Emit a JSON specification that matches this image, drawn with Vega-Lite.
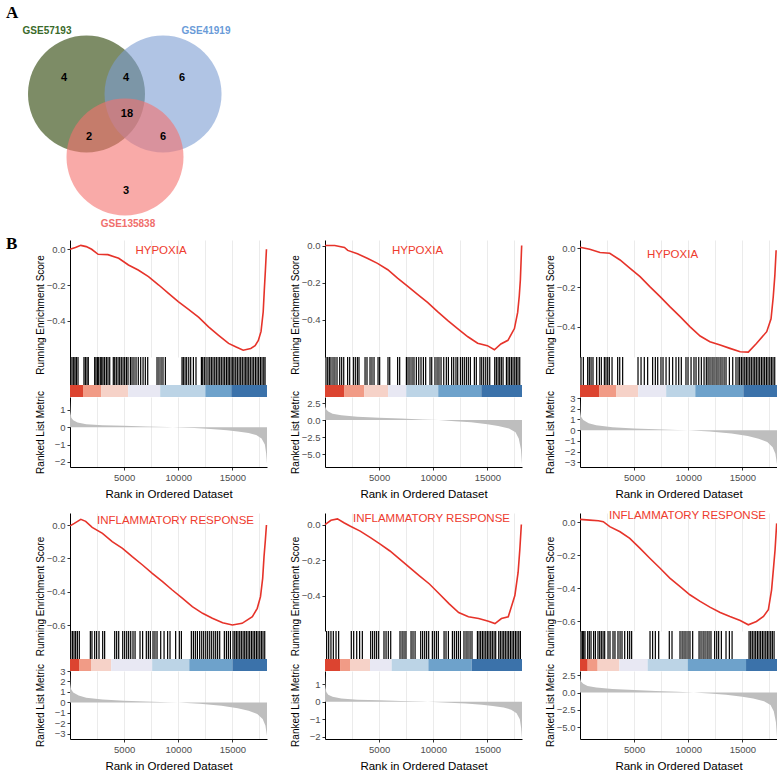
{
"$schema": "https://vega.github.io/schema/vega-lite/v6.json",
"background": "white",
"padding": {"left": 5, "top": 0, "right": 0, "bottom": 0},
"bounds": "flush",
"columns": 3,
"spacing": {"row": 0, "column": 58},
"resolve": {"scale": {"x": "independent", "y": "independent", "color": "independent"}},
"config": {
 "font": "Liberation Sans",
 "view": {"stroke": null},
 "title": {"color": "#ee3b2e", "fontSize": 11.5, "fontWeight": "normal", "frame": "group", "anchor": "middle", "baseline": "middle"},
 "axis": {"labelFontSize": 9.5, "labelColor": "#4d4d4d", "labelOverlap": false, "labelFlush": false, "labelBound": false, "titleFontWeight": "normal", "titleColor": "#000000", "domainColor": "#000000", "tickColor": "#333333", "tickSize": 3, "labelPadding": 2, "gridColor": "#ebebeb", "titleLimit": 1000, "tickCount": 20},
 "axisY": {"grid": false, "titleFontSize": 10, "titlePadding": 1, "minExtent": 24, "maxExtent": 24, "zindex": 1},
 "axisX": {"titleFontSize": 11.5}
},
"datasets": {
 "vennSets": [
  {"set": "GSE57193", "cx": 0, "cy": 0, "lx": -0.675, "ly": 1.077},
  {"set": "GSE41919", "cx": 1.308, "cy": 0, "lx": 2.043, "ly": 1.077},
  {"set": "GSE135838", "cx": 0.658, "cy": -1.077, "lx": 0.709, "ly": -2.222}
 ],
 "vennCounts": [
  {"n": 4, "x": -0.385, "y": 0.274}, {"n": 4, "x": 0.675, "y": 0.274}, {"n": 6, "x": 1.632, "y": 0.274},
  {"n": 18, "x": 0.692, "y": -0.342}, {"n": 2, "x": 0.043, "y": -0.735}, {"n": 6, "x": 1.308, "y": -0.735},
  {"n": 3, "x": 0.675, "y": -1.658}
 ],
 "panelTags": [{"t": "A", "x": -1.376, "y": 1.385}, {"t": "B", "x": -1.376, "y": -2.564}],
 "es1": [{"rank":0,"es":0},{"rank":500,"es":0.01},{"rank":1000,"es":0.022},{"rank":1500,"es":0.015},{"rank":2000,"es":0.0},{"rank":2600,"es":-0.028},{"rank":3500,"es":-0.03},{"rank":4500,"es":-0.05},{"rank":5400,"es":-0.088},{"rank":6300,"es":-0.116},{"rank":7250,"es":-0.153},{"rank":8200,"es":-0.2},{"rank":9100,"es":-0.247},{"rank":10000,"es":-0.293},{"rank":10950,"es":-0.336},{"rank":11900,"es":-0.381},{"rank":12800,"es":-0.434},{"rank":13700,"es":-0.48},{"rank":14650,"es":-0.527},{"rank":15300,"es":-0.546},{"rank":16000,"es":-0.565},{"rank":16700,"es":-0.555},{"rank":17100,"es":-0.54},{"rank":17400,"es":-0.51},{"rank":17650,"es":-0.46},{"rank":17850,"es":-0.35},{"rank":17950,"es":-0.23},{"rank":18050,"es":-0.12},{"rank":18150,"es":0.0}],
 "es2": [{"rank":0,"es":0},{"rank":900,"es":0.0},{"rank":1800,"es":-0.01},{"rank":2100,"es":-0.026},{"rank":3000,"es":-0.044},{"rank":3950,"es":-0.07},{"rank":4850,"es":-0.096},{"rank":5800,"es":-0.13},{"rank":6700,"es":-0.175},{"rank":7650,"es":-0.22},{"rank":8550,"es":-0.263},{"rank":9500,"es":-0.307},{"rank":10400,"es":-0.356},{"rank":11350,"es":-0.404},{"rank":12250,"es":-0.447},{"rank":13200,"es":-0.491},{"rank":14100,"es":-0.526},{"rank":15000,"es":-0.539},{"rank":15650,"es":-0.561},{"rank":16250,"es":-0.53},{"rank":16900,"es":-0.51},{"rank":17500,"es":-0.447},{"rank":17800,"es":-0.36},{"rank":17950,"es":-0.27},{"rank":18050,"es":-0.184},{"rank":18170,"es":0.0}],
 "es3": [{"rank":0,"es":0.005},{"rank":900,"es":-0.005},{"rank":1850,"es":-0.022},{"rank":2750,"es":-0.026},{"rank":3700,"es":-0.06},{"rank":4600,"es":-0.102},{"rank":5550,"es":-0.145},{"rank":6450,"es":-0.196},{"rank":7400,"es":-0.247},{"rank":8300,"es":-0.298},{"rank":9250,"es":-0.349},{"rank":10150,"es":-0.4},{"rank":11100,"es":-0.448},{"rank":12000,"es":-0.477},{"rank":12950,"es":-0.494},{"rank":13850,"es":-0.511},{"rank":14800,"es":-0.528},{"rank":15550,"es":-0.53},{"rank":16300,"es":-0.486},{"rank":17250,"es":-0.426},{"rank":17650,"es":-0.36},{"rank":17850,"es":-0.25},{"rank":18000,"es":-0.14},{"rank":18120,"es":-0.01}],
 "es4": [{"rank":0,"es":-0.005},{"rank":400,"es":0.01},{"rank":1000,"es":0.034},{"rank":1450,"es":0.022},{"rank":2050,"es":-0.014},{"rank":3000,"es":-0.05},{"rank":3900,"es":-0.1},{"rank":4850,"es":-0.14},{"rank":5750,"es":-0.19},{"rank":6700,"es":-0.24},{"rank":7600,"es":-0.29},{"rank":8550,"es":-0.34},{"rank":9450,"es":-0.39},{"rank":10400,"es":-0.44},{"rank":11300,"es":-0.49},{"rank":12250,"es":-0.53},{"rank":13150,"es":-0.56},{"rank":14100,"es":-0.586},{"rank":15000,"es":-0.6},{"rank":15900,"es":-0.59},{"rank":16850,"es":-0.55},{"rank":17300,"es":-0.5},{"rank":17600,"es":-0.43},{"rank":17800,"es":-0.32},{"rank":17925,"es":-0.19},{"rank":18050,"es":-0.09},{"rank":18150,"es":0.0}],
 "es5": [{"rank":0,"es":0},{"rank":550,"es":0.024},{"rank":1150,"es":0.032},{"rank":1750,"es":0.01},{"rank":2350,"es":-0.01},{"rank":3250,"es":-0.037},{"rank":4200,"es":-0.074},{"rank":5100,"es":-0.11},{"rank":6000,"es":-0.149},{"rank":6900,"es":-0.195},{"rank":7800,"es":-0.242},{"rank":8700,"es":-0.288},{"rank":9650,"es":-0.335},{"rank":10550,"es":-0.39},{"rank":11450,"es":-0.446},{"rank":12350,"es":-0.496},{"rank":13250,"es":-0.52},{"rank":14200,"es":-0.53},{"rank":15100,"es":-0.545},{"rank":15700,"es":-0.558},{"rank":16300,"es":-0.53},{"rank":16930,"es":-0.52},{"rank":17540,"es":-0.4},{"rank":17840,"es":-0.27},{"rank":18000,"es":-0.14},{"rank":18140,"es":0.0}],
 "es6": [{"rank":0,"es":0.018},{"rank":900,"es":0.014},{"rank":1700,"es":0.01},{"rank":2150,"es":0.004},{"rank":2750,"es":-0.026},{"rank":3700,"es":-0.057},{"rank":4600,"es":-0.097},{"rank":5550,"es":-0.158},{"rank":6450,"es":-0.218},{"rank":7400,"es":-0.279},{"rank":8300,"es":-0.339},{"rank":9250,"es":-0.39},{"rank":10150,"es":-0.44},{"rank":11100,"es":-0.48},{"rank":12000,"es":-0.515},{"rank":12950,"es":-0.547},{"rank":13850,"es":-0.572},{"rank":14800,"es":-0.596},{"rank":15550,"es":-0.622},{"rank":16300,"es":-0.602},{"rank":16950,"es":-0.572},{"rank":17400,"es":-0.531},{"rank":17700,"es":-0.41},{"rank":17900,"es":-0.26},{"rank":18020,"es":-0.168},{"rank":18170,"es":-0.006}],
 "metA": [{"rank":1,"metric":1.55},{"rank":40,"metric":0.9},{"rank":120,"metric":0.55},{"rank":300,"metric":0.4},{"rank":700,"metric":0.28},{"rank":1500,"metric":0.18},{"rank":3000,"metric":0.12},{"rank":5000,"metric":0.08},{"rank":7000,"metric":0.045},{"rank":9000,"metric":0.01},{"rank":10000,"metric":-0.01},{"rank":11500,"metric":-0.05},{"rank":13000,"metric":-0.1},{"rank":14500,"metric":-0.17},{"rank":15500,"metric":-0.24},{"rank":16500,"metric":-0.33},{"rank":17200,"metric":-0.45},{"rank":17700,"metric":-0.65},{"rank":18000,"metric":-1.0},{"rank":18120,"metric":-1.5},{"rank":18200,"metric":-2.1}],
 "metB": [{"rank":1,"metric":3.0},{"rank":30,"metric":2.0},{"rank":100,"metric":1.6},{"rank":300,"metric":1.25},{"rank":700,"metric":0.95},{"rank":1500,"metric":0.72},{"rank":3000,"metric":0.5},{"rank":5000,"metric":0.35},{"rank":7000,"metric":0.22},{"rank":9000,"metric":0.1},{"rank":10500,"metric":0.0},{"rank":12000,"metric":-0.15},{"rank":13500,"metric":-0.32},{"rank":15000,"metric":-0.6},{"rank":16000,"metric":-0.85},{"rank":17000,"metric":-1.25},{"rank":17600,"metric":-1.8},{"rank":17900,"metric":-2.7},{"rank":18100,"metric":-4.3},{"rank":18200,"metric":-6.5}],
 "metC": [{"rank":1,"metric":2.8},{"rank":30,"metric":1.8},{"rank":100,"metric":1.25},{"rank":300,"metric":0.95},{"rank":800,"metric":0.65},{"rank":1500,"metric":0.45},{"rank":3000,"metric":0.27},{"rank":5000,"metric":0.15},{"rank":7000,"metric":0.08},{"rank":9000,"metric":0.02},{"rank":10000,"metric":-0.02},{"rank":12000,"metric":-0.13},{"rank":14000,"metric":-0.32},{"rank":15500,"metric":-0.55},{"rank":16500,"metric":-0.8},{"rank":17300,"metric":-1.1},{"rank":17800,"metric":-1.6},{"rank":18050,"metric":-2.2},{"rank":18200,"metric":-3.2}],
 "strip1": [{"start":0,"end":1200,"bin":1},{"start":1200,"end":2870,"bin":2},{"start":2870,"end":5370,"bin":3},{"start":5370,"end":8330,"bin":4},{"start":8330,"end":12500,"bin":5},{"start":12500,"end":14900,"bin":6},{"start":14900,"end":18200,"bin":7}],
 "strip2": [{"start":0,"end":1760,"bin":1},{"start":1760,"end":3610,"bin":2},{"start":3610,"end":5830,"bin":3},{"start":5830,"end":7500,"bin":4},{"start":7500,"end":10460,"bin":5},{"start":10460,"end":14440,"bin":6},{"start":14440,"end":18200,"bin":7}],
 "strip3": [{"start":0,"end":1760,"bin":1},{"start":1760,"end":3330,"bin":2},{"start":3330,"end":5370,"bin":3},{"start":5370,"end":7960,"bin":4},{"start":7960,"end":10650,"bin":5},{"start":10650,"end":15090,"bin":6},{"start":15090,"end":18200,"bin":7}],
 "strip4": [{"start":0,"end":830,"bin":1},{"start":830,"end":1940,"bin":2},{"start":1940,"end":3800,"bin":3},{"start":3800,"end":7590,"bin":4},{"start":7590,"end":11020,"bin":5},{"start":11020,"end":15000,"bin":6},{"start":15000,"end":18200,"bin":7}],
 "strip5": [{"start":0,"end":1390,"bin":1},{"start":1390,"end":2310,"bin":2},{"start":2310,"end":4160,"bin":3},{"start":4160,"end":6160,"bin":4},{"start":6160,"end":9550,"bin":5},{"start":9550,"end":13550,"bin":6},{"start":13550,"end":18200,"bin":7}],
 "strip6": [{"start":0,"end":710,"bin":1},{"start":710,"end":1630,"bin":2},{"start":1630,"end":3630,"bin":3},{"start":3630,"end":6250,"bin":4},{"start":6250,"end":9950,"bin":5},{"start":9950,"end":15340,"bin":6},{"start":15340,"end":18200,"bin":7}],
 "hits1": [{"rank":60},{"rank":190},{"rank":340},{"rank":460},{"rank":590},{"rank":740},{"rank":1290},{"rank":1420},{"rank":1570},{"rank":1690},{"rank":2280},{"rank":2400},{"rank":2530},{"rank":2650},{"rank":2800},{"rank":2930},{"rank":3050},{"rank":3200},{"rank":3360},{"rank":3510},{"rank":3670},{"rank":4000},{"rank":4130},{"rank":4280},{"rank":4440},{"rank":4590},{"rank":4740},{"rank":4900},{"rank":5050},{"rank":5210},{"rank":5360},{"rank":5580},{"rank":5730},{"rank":5910},{"rank":6100},{"rank":6310},{"rank":6530},{"rank":6750},{"rank":6960},{"rank":7180},{"rank":8040},{"rank":8220},{"rank":8410},{"rank":8590},{"rank":8810},{"rank":10350},{"rank":10470},{"rank":10630},{"rank":10780},{"rank":10970},{"rank":11150},{"rank":11400},{"rank":11640},{"rank":12140},{"rank":12260},{"rank":12410},{"rank":12570},{"rank":12750},{"rank":12910},{"rank":13060},{"rank":13210},{"rank":13370},{"rank":13520},{"rank":13680},{"rank":13830},{"rank":13980},{"rank":14140},{"rank":14290},{"rank":14450},{"rank":14600},{"rank":14720},{"rank":14880},{"rank":15030},{"rank":15150},{"rank":15310},{"rank":15460},{"rank":15620},{"rank":15770},{"rank":15920},{"rank":16080},{"rank":16230},{"rank":16360},{"rank":16510},{"rank":16660},{"rank":16820},{"rank":16970},{"rank":17130},{"rank":17280},{"rank":17430},{"rank":17590},{"rank":17740},{"rank":17900},{"rank":18020}],
 "hits2": [{"rank":90},{"rank":250},{"rank":400},{"rank":550},{"rank":740},{"rank":920},{"rank":1110},{"rank":1360},{"rank":1540},{"rank":1730},{"rank":2090},{"rank":2280},{"rank":2620},{"rank":2800},{"rank":2990},{"rank":3140},{"rank":3700},{"rank":3880},{"rank":4160},{"rank":4340},{"rank":4530},{"rank":4900},{"rank":5050},{"rank":5820},{"rank":5980},{"rank":6710},{"rank":6900},{"rank":7520},{"rank":7670},{"rank":7850},{"rank":8040},{"rank":8220},{"rank":8440},{"rank":8660},{"rank":8870},{"rank":9090},{"rank":9300},{"rank":9700},{"rank":9860},{"rank":10160},{"rank":10350},{"rank":10530},{"rank":10720},{"rank":10970},{"rank":11210},{"rank":11400},{"rank":11700},{"rank":11890},{"rank":12100},{"rank":12260},{"rank":12510},{"rank":12690},{"rank":12870},{"rank":13060},{"rank":13240},{"rank":13430},{"rank":13800},{"rank":13980},{"rank":14320},{"rank":14480},{"rank":14660},{"rank":14850},{"rank":15030},{"rank":15220},{"rank":15680},{"rank":15830},{"rank":15990},{"rank":16140},{"rank":16290},{"rank":16450},{"rank":16760},{"rank":16910},{"rank":17060},{"rank":17220},{"rank":17370},{"rank":17530},{"rank":17680},{"rank":17830},{"rank":17990}],
 "hits3": [{"rank":90},{"rank":310},{"rank":710},{"rank":860},{"rank":1020},{"rank":1200},{"rank":1540},{"rank":1790},{"rank":1970},{"rank":2250},{"rank":2400},{"rank":2560},{"rank":2710},{"rank":2960},{"rank":3480},{"rank":3670},{"rank":3940},{"rank":5360},{"rank":5640},{"rank":5940},{"rank":6250},{"rank":6710},{"rank":6960},{"rank":7180},{"rank":7480},{"rank":7670},{"rank":7950},{"rank":8250},{"rank":8560},{"rank":8870},{"rank":9120},{"rank":9360},{"rank":9790},{"rank":9980},{"rank":10260},{"rank":10530},{"rank":10720},{"rank":10970},{"rank":11210},{"rank":11460},{"rank":11670},{"rank":11830},{"rank":12010},{"rank":12200},{"rank":12380},{"rank":12570},{"rank":12750},{"rank":12940},{"rank":13120},{"rank":13310},{"rank":13490},{"rank":13800},{"rank":14110},{"rank":14410},{"rank":14600},{"rank":14750},{"rank":14910},{"rank":15060},{"rank":15220},{"rank":15370},{"rank":15520},{"rank":15680},{"rank":15830},{"rank":15990},{"rank":16140},{"rank":16290},{"rank":16450},{"rank":16600},{"rank":16760},{"rank":16910},{"rank":17060},{"rank":17220},{"rank":17370},{"rank":17530},{"rank":17680},{"rank":17830},{"rank":17990}],
 "hits4": [{"rank":60},{"rank":220},{"rank":370},{"rank":520},{"rank":680},{"rank":860},{"rank":1880},{"rank":2030},{"rank":2280},{"rank":2460},{"rank":2680},{"rank":3020},{"rank":3200},{"rank":4130},{"rank":4310},{"rank":4500},{"rank":4870},{"rank":5050},{"rank":5240},{"rank":5420},{"rank":5610},{"rank":5820},{"rank":6010},{"rank":6470},{"rank":6710},{"rank":7050},{"rank":7240},{"rank":7420},{"rank":7670},{"rank":7850},{"rank":8040},{"rank":8380},{"rank":8690},{"rank":9020},{"rank":9240},{"rank":9760},{"rank":10100},{"rank":10290},{"rank":11210},{"rank":11400},{"rank":11580},{"rank":11770},{"rank":11980},{"rank":12170},{"rank":12350},{"rank":12540},{"rank":12720},{"rank":12910},{"rank":13090},{"rank":13280},{"rank":13460},{"rank":13640},{"rank":13830},{"rank":14260},{"rank":14450},{"rank":14630},{"rank":14820},{"rank":15060},{"rank":15220},{"rank":15370},{"rank":15520},{"rank":15680},{"rank":15830},{"rank":15990},{"rank":16140},{"rank":16290},{"rank":16450},{"rank":16600},{"rank":16760},{"rank":16910},{"rank":17060},{"rank":17220},{"rank":17370},{"rank":17530},{"rank":17680},{"rank":17830},{"rank":17990}],
 "hits5": [{"rank":150},{"rank":340},{"rank":550},{"rank":770},{"rank":1020},{"rank":1260},{"rank":2430},{"rank":2650},{"rank":2930},{"rank":3200},{"rank":3450},{"rank":4220},{"rank":4400},{"rank":4590},{"rank":4770},{"rank":4960},{"rank":5450},{"rank":5640},{"rank":5850},{"rank":6070},{"rank":6930},{"rank":7120},{"rank":7300},{"rank":7480},{"rank":7950},{"rank":8130},{"rank":8320},{"rank":8840},{"rank":9020},{"rank":9210},{"rank":9390},{"rank":9580},{"rank":9920},{"rank":10100},{"rank":10290},{"rank":10470},{"rank":11000},{"rank":11180},{"rank":11400},{"rank":11770},{"rank":11950},{"rank":12140},{"rank":12320},{"rank":12510},{"rank":12840},{"rank":13030},{"rank":13210},{"rank":13400},{"rank":13580},{"rank":14080},{"rank":14230},{"rank":14380},{"rank":14540},{"rank":14690},{"rank":14850},{"rank":15000},{"rank":15150},{"rank":15310},{"rank":15460},{"rank":15620},{"rank":15770},{"rank":16050},{"rank":16200},{"rank":16360},{"rank":16510},{"rank":16660},{"rank":16820},{"rank":16970},{"rank":17130},{"rank":17280},{"rank":17430},{"rank":17590},{"rank":17740},{"rank":17900},{"rank":18050}],
 "hits6": [{"rank":90},{"rank":220},{"rank":340},{"rank":460},{"rank":710},{"rank":860},{"rank":1020},{"rank":1260},{"rank":1420},{"rank":1660},{"rank":1820},{"rank":1970},{"rank":2130},{"rank":2280},{"rank":2590},{"rank":2770},{"rank":3050},{"rank":3230},{"rank":3510},{"rank":3700},{"rank":3880},{"rank":4130},{"rank":4400},{"rank":4590},{"rank":4770},{"rank":6470},{"rank":6710},{"rank":6960},{"rank":7270},{"rank":8250},{"rank":8500},{"rank":9240},{"rank":9430},{"rank":9610},{"rank":9790},{"rank":9980},{"rank":10160},{"rank":10410},{"rank":11000},{"rank":11180},{"rank":11370},{"rank":11550},{"rank":11740},{"rank":11920},{"rank":12100},{"rank":12440},{"rank":12630},{"rank":12810},{"rank":13060},{"rank":13490},{"rank":13800},{"rank":14050},{"rank":15620},{"rank":15770},{"rank":15920},{"rank":16080},{"rank":16230},{"rank":16390},{"rank":16540},{"rank":16690},{"rank":16850},{"rank":17000},{"rank":17160},{"rank":17310},{"rank":17460},{"rank":17620},{"rank":17770},{"rank":17930}]
},
"concat": [
 {"width": 197, "height": 240,
  "layer": [
   {"data": {"name": "vennSets"}, "mark": {"type": "point", "shape": "circle", "filled": true, "size": 13689, "opacity": 0.6, "strokeWidth": 0},
    "encoding": {
     "x": {"field": "cx", "type": "quantitative", "scale": {"domain": [-0.282, 3.085], "nice": false, "zero": false}, "axis": null},
     "y": {"field": "cy", "type": "quantitative", "scale": {"domain": [-2.496, 1.607], "nice": false, "zero": false}, "axis": null},
     "color": {"field": "set", "type": "nominal", "scale": {"domain": ["GSE57193", "GSE41919", "GSE135838"], "range": ["#263f00", "#7b9dd2", "#f5716e"]}, "legend": null}
    }},
   {"data": {"name": "vennSets"}, "mark": {"type": "text", "fontSize": 10, "fontWeight": "bold"},
    "encoding": {
     "x": {"field": "lx", "type": "quantitative"},
     "y": {"field": "ly", "type": "quantitative"},
     "text": {"field": "set"},
     "color": {"field": "set", "type": "nominal", "scale": {"domain": ["GSE57193", "GSE41919", "GSE135838"], "range": ["#3a6a2a", "#6a9bd8", "#f06f6c"]}, "legend": null}
    }},
   {"data": {"name": "vennCounts"}, "mark": {"type": "text", "fontSize": 11, "fontWeight": "bold", "color": "#000000"},
    "encoding": {
     "x": {"field": "x", "type": "quantitative"},
     "y": {"field": "y", "type": "quantitative"},
     "text": {"field": "n"}
    }},
   {"data": {"name": "panelTags"}, "mark": {"type": "text", "font": "Liberation Serif", "fontSize": 17, "fontWeight": "bold", "align": "left", "baseline": "middle", "color": "#000000"},
    "encoding": {
     "x": {"field": "x", "type": "quantitative"},
     "y": {"field": "y", "type": "quantitative"},
     "text": {"field": "t"}
    }}
  ],
  "resolve": {"scale": {"color": "independent"}}
 },
 {"width": 197, "height": 240, "data": {"values": []}, "mark": "point"},
 {"width": 197, "height": 240, "data": {"values": []}, "mark": "point"},

 {"width": 197, "height": 117, "title": {"text": "HYPOXIA", "offset": -16, "dx": -7.5},
  "data": {"name": "es1"}, "mark": {"type": "line", "color": "#e6332a", "strokeWidth": 1.6},
  "encoding": {
   "x": {"field": "rank", "type": "quantitative", "scale": {"domain": [0, 18200], "nice": false, "zero": false}, "axis": {"values": [2500,5000,7500,10000,12500,15000,17500], "tickCount": 20, "domain": false, "ticks": false, "labels": false, "title": null, "grid": true}},
   "y": {"field": "es", "type": "quantitative", "scale": {"domain": [-0.603, 0.052], "nice": false, "zero": false}, "axis": {"values": [-0.4, -0.2, 0], "tickCount": 20, "labelOverlap": false, "format": ".1f", "title": "Running Enrichment Score", "titleY": 74.5}}
  }},
 {"width": 197, "height": 117, "title": {"text": "HYPOXIA", "offset": -16, "dx": -6},
  "data": {"name": "es2"}, "mark": {"type": "line", "color": "#e6332a", "strokeWidth": 1.6},
  "encoding": {
   "x": {"field": "rank", "type": "quantitative", "scale": {"domain": [0, 18200], "nice": false, "zero": false}, "axis": {"values": [2500,5000,7500,10000,12500,15000,17500], "tickCount": 20, "domain": false, "ticks": false, "labels": false, "title": null, "grid": true}},
   "y": {"field": "es", "type": "quantitative", "scale": {"domain": [-0.6, 0.03], "nice": false, "zero": false}, "axis": {"values": [-0.4, -0.3, -0.2, -0.1, 0], "tickCount": 20, "labelOverlap": false, "format": ".1f", "labelExpr": "abs(round(datum.value * 10)) % 2 === 1 ? '' : datum.label", "tickOpacity": {"condition": {"test": "abs(round(datum.value * 10)) % 2 === 1", "value": 0}, "value": 1}, "title": "Running Enrichment Score", "titleY": 74.5}}
  }},
 {"width": 197, "height": 117, "title": {"text": "HYPOXIA", "offset": -20, "dx": -6},
  "data": {"name": "es3"}, "mark": {"type": "line", "color": "#e6332a", "strokeWidth": 1.6},
  "encoding": {
   "x": {"field": "rank", "type": "quantitative", "scale": {"domain": [0, 18200], "nice": false, "zero": false}, "axis": {"values": [2500,5000,7500,10000,12500,15000,17500], "tickCount": 20, "domain": false, "ticks": false, "labels": false, "title": null, "grid": true}},
   "y": {"field": "es", "type": "quantitative", "scale": {"domain": [-0.555, 0.042], "nice": false, "zero": false}, "axis": {"values": [-0.4, -0.2, 0], "tickCount": 20, "labelOverlap": false, "format": ".1f", "title": "Running Enrichment Score", "titleY": 74.5}}
  }},

 {"width": 197, "height": 40, "layer": [
  {"data": {"name": "strip1"}, "mark": {"type": "rect"},
   "encoding": {
    "x": {"field": "start", "type": "quantitative", "scale": {"domain": [0, 18200], "nice": false, "zero": false}, "axis": null},
    "x2": {"field": "end"},
    "y": {"datum": 0, "type": "quantitative", "scale": {"domain": [0, 1], "nice": false, "zero": false}, "axis": null},
    "y2": {"datum": 0.3},
    "color": {"field": "bin", "type": "ordinal", "scale": {"domain": [1,2,3,4,5,6,7], "range": ["#dc4430", "#f19b86", "#f6d2c8", "#e8e8f3", "#bcd4e6", "#6ea2cb", "#3b72aa"]}, "legend": null}
   }},
  {"data": {"name": "hits1"}, "mark": {"type": "rule", "color": "#000000", "strokeWidth": 1.2},
   "encoding": {"x": {"field": "rank", "type": "quantitative"}, "y": {"datum": 0.3, "type": "quantitative"}, "y2": {"datum": 1}}}
 ]},
 {"width": 197, "height": 40, "layer": [
  {"data": {"name": "strip2"}, "mark": {"type": "rect"},
   "encoding": {
    "x": {"field": "start", "type": "quantitative", "scale": {"domain": [0, 18200], "nice": false, "zero": false}, "axis": null},
    "x2": {"field": "end"},
    "y": {"datum": 0, "type": "quantitative", "scale": {"domain": [0, 1], "nice": false, "zero": false}, "axis": null},
    "y2": {"datum": 0.3},
    "color": {"field": "bin", "type": "ordinal", "scale": {"domain": [1,2,3,4,5,6,7], "range": ["#dc4430", "#f19b86", "#f6d2c8", "#e8e8f3", "#bcd4e6", "#6ea2cb", "#3b72aa"]}, "legend": null}
   }},
  {"data": {"name": "hits2"}, "mark": {"type": "rule", "color": "#000000", "strokeWidth": 1.2},
   "encoding": {"x": {"field": "rank", "type": "quantitative"}, "y": {"datum": 0.3, "type": "quantitative"}, "y2": {"datum": 1}}}
 ]},
 {"width": 197, "height": 40, "layer": [
  {"data": {"name": "strip3"}, "mark": {"type": "rect"},
   "encoding": {
    "x": {"field": "start", "type": "quantitative", "scale": {"domain": [0, 18200], "nice": false, "zero": false}, "axis": null},
    "x2": {"field": "end"},
    "y": {"datum": 0, "type": "quantitative", "scale": {"domain": [0, 1], "nice": false, "zero": false}, "axis": null},
    "y2": {"datum": 0.3},
    "color": {"field": "bin", "type": "ordinal", "scale": {"domain": [1,2,3,4,5,6,7], "range": ["#dc4430", "#f19b86", "#f6d2c8", "#e8e8f3", "#bcd4e6", "#6ea2cb", "#3b72aa"]}, "legend": null}
   }},
  {"data": {"name": "hits3"}, "mark": {"type": "rule", "color": "#000000", "strokeWidth": 1.2},
   "encoding": {"x": {"field": "rank", "type": "quantitative"}, "y": {"datum": 0.3, "type": "quantitative"}, "y2": {"datum": 1}}}
 ]},

 {"width": 197, "height": 70, "data": {"name": "metA"}, "mark": {"type": "area", "color": "#bebebe"},
  "encoding": {
   "x": {"field": "rank", "type": "quantitative", "scale": {"domain": [0, 18200], "nice": false, "zero": false}, "axis": {"values": [2500,5000,7500,10000,12500,15000,17500], "tickCount": 20, "labelOverlap": false, "format": "d", "labelExpr": "datum.value % 5000 === 0 ? datum.label : ''", "tickOpacity": {"condition": {"test": "datum.value % 5000 !== 0", "value": 0}, "value": 1}, "title": "Rank in Ordered Dataset", "titlePadding": 7, "grid": true}},
   "y": {"field": "metric", "type": "quantitative", "scale": {"domain": [-2.3, 1.75], "nice": false, "zero": false}, "axis": {"values": [1, 0, -1, -2], "tickCount": 20, "labelOverlap": false, "format": "d", "title": "Ranked List Metric"}},
   "y2": {"datum": 0}
  }},
 {"width": 197, "height": 70, "data": {"name": "metB"}, "mark": {"type": "area", "color": "#bebebe"},
  "encoding": {
   "x": {"field": "rank", "type": "quantitative", "scale": {"domain": [0, 18200], "nice": false, "zero": false}, "axis": {"values": [2500,5000,7500,10000,12500,15000,17500], "tickCount": 20, "labelOverlap": false, "format": "d", "labelExpr": "datum.value % 5000 === 0 ? datum.label : ''", "tickOpacity": {"condition": {"test": "datum.value % 5000 !== 0", "value": 0}, "value": 1}, "title": "Rank in Ordered Dataset", "titlePadding": 7, "grid": true}},
   "y": {"field": "metric", "type": "quantitative", "scale": {"domain": [-6.9, 3.4], "nice": false, "zero": false}, "axis": {"values": [2.5, 0, -2.5, -5], "tickCount": 20, "labelOverlap": false, "format": ".1f", "title": "Ranked List Metric"}},
   "y2": {"datum": 0}
  }},
 {"width": 197, "height": 70, "data": {"name": "metC"}, "mark": {"type": "area", "color": "#bebebe"},
  "encoding": {
   "x": {"field": "rank", "type": "quantitative", "scale": {"domain": [0, 18200], "nice": false, "zero": false}, "axis": {"values": [2500,5000,7500,10000,12500,15000,17500], "tickCount": 20, "labelOverlap": false, "format": "d", "labelExpr": "datum.value % 5000 === 0 ? datum.label : ''", "tickOpacity": {"condition": {"test": "datum.value % 5000 !== 0", "value": 0}, "value": 1}, "title": "Rank in Ordered Dataset", "titlePadding": 7, "grid": true}},
   "y": {"field": "metric", "type": "quantitative", "scale": {"domain": [-3.45, 3.1], "nice": false, "zero": false}, "axis": {"values": [3, 2, 1, 0, -1, -2, -3], "tickCount": 20, "labelOverlap": false, "format": "d", "title": "Ranked List Metric"}},
   "y2": {"datum": 0}
  }},

 {"width": 197, "height": 46, "data": {"values": []}, "mark": "point"},
 {"width": 197, "height": 46, "data": {"values": []}, "mark": "point"},
 {"width": 197, "height": 46, "data": {"values": []}, "mark": "point"},

 {"width": 197, "height": 118, "title": {"text": "INFLAMMATORY RESPONSE", "offset": -13, "dx": 7},
  "data": {"name": "es4"}, "mark": {"type": "line", "color": "#e6332a", "strokeWidth": 1.6},
  "encoding": {
   "x": {"field": "rank", "type": "quantitative", "scale": {"domain": [0, 18200], "nice": false, "zero": false}, "axis": {"values": [2500,5000,7500,10000,12500,15000,17500], "tickCount": 20, "domain": false, "ticks": false, "labels": false, "title": null, "grid": true}},
   "y": {"field": "es", "type": "quantitative", "scale": {"domain": [-0.636, 0.072], "nice": false, "zero": false}, "axis": {"values": [-0.6, -0.4, -0.2, 0], "tickCount": 20, "labelOverlap": false, "format": ".1f", "title": "Running Enrichment Score", "titleY": 83}}
  }},
 {"width": 197, "height": 118, "title": {"text": "INFLAMMATORY RESPONSE", "offset": -11.5, "dx": 8},
  "data": {"name": "es5"}, "mark": {"type": "line", "color": "#e6332a", "strokeWidth": 1.6},
  "encoding": {
   "x": {"field": "rank", "type": "quantitative", "scale": {"domain": [0, 18200], "nice": false, "zero": false}, "axis": {"values": [2500,5000,7500,10000,12500,15000,17500], "tickCount": 20, "domain": false, "ticks": false, "labels": false, "title": null, "grid": true}},
   "y": {"field": "es", "type": "quantitative", "scale": {"domain": [-0.6, 0.065], "nice": false, "zero": false}, "axis": {"values": [-0.4, -0.3, -0.2, -0.1, 0], "tickCount": 20, "labelOverlap": false, "format": ".1f", "labelExpr": "abs(round(datum.value * 10)) % 2 === 1 ? '' : datum.label", "tickOpacity": {"condition": {"test": "abs(round(datum.value * 10)) % 2 === 1", "value": 0}, "value": 1}, "title": "Running Enrichment Score", "titleY": 83}}
  }},
 {"width": 197, "height": 118, "title": {"text": "INFLAMMATORY RESPONSE", "offset": -8, "dx": 9},
  "data": {"name": "es6"}, "mark": {"type": "line", "color": "#e6332a", "strokeWidth": 1.6},
  "encoding": {
   "x": {"field": "rank", "type": "quantitative", "scale": {"domain": [0, 18200], "nice": false, "zero": false}, "axis": {"values": [2500,5000,7500,10000,12500,15000,17500], "tickCount": 20, "domain": false, "ticks": false, "labels": false, "title": null, "grid": true}},
   "y": {"field": "es", "type": "quantitative", "scale": {"domain": [-0.66, 0.057], "nice": false, "zero": false}, "axis": {"values": [-0.6, -0.4, -0.2, 0], "tickCount": 20, "labelOverlap": false, "format": ".1f", "title": "Running Enrichment Score", "titleY": 83}}
  }},

 {"width": 197, "height": 40, "layer": [
  {"data": {"name": "strip4"}, "mark": {"type": "rect"},
   "encoding": {
    "x": {"field": "start", "type": "quantitative", "scale": {"domain": [0, 18200], "nice": false, "zero": false}, "axis": null},
    "x2": {"field": "end"},
    "y": {"datum": 0, "type": "quantitative", "scale": {"domain": [0, 1], "nice": false, "zero": false}, "axis": null},
    "y2": {"datum": 0.3},
    "color": {"field": "bin", "type": "ordinal", "scale": {"domain": [1,2,3,4,5,6,7], "range": ["#dc4430", "#f19b86", "#f6d2c8", "#e8e8f3", "#bcd4e6", "#6ea2cb", "#3b72aa"]}, "legend": null}
   }},
  {"data": {"name": "hits4"}, "mark": {"type": "rule", "color": "#000000", "strokeWidth": 1.2},
   "encoding": {"x": {"field": "rank", "type": "quantitative"}, "y": {"datum": 0.3, "type": "quantitative"}, "y2": {"datum": 1}}}
 ]},
 {"width": 197, "height": 40, "layer": [
  {"data": {"name": "strip5"}, "mark": {"type": "rect"},
   "encoding": {
    "x": {"field": "start", "type": "quantitative", "scale": {"domain": [0, 18200], "nice": false, "zero": false}, "axis": null},
    "x2": {"field": "end"},
    "y": {"datum": 0, "type": "quantitative", "scale": {"domain": [0, 1], "nice": false, "zero": false}, "axis": null},
    "y2": {"datum": 0.3},
    "color": {"field": "bin", "type": "ordinal", "scale": {"domain": [1,2,3,4,5,6,7], "range": ["#dc4430", "#f19b86", "#f6d2c8", "#e8e8f3", "#bcd4e6", "#6ea2cb", "#3b72aa"]}, "legend": null}
   }},
  {"data": {"name": "hits5"}, "mark": {"type": "rule", "color": "#000000", "strokeWidth": 1.2},
   "encoding": {"x": {"field": "rank", "type": "quantitative"}, "y": {"datum": 0.3, "type": "quantitative"}, "y2": {"datum": 1}}}
 ]},
 {"width": 197, "height": 40, "layer": [
  {"data": {"name": "strip6"}, "mark": {"type": "rect"},
   "encoding": {
    "x": {"field": "start", "type": "quantitative", "scale": {"domain": [0, 18200], "nice": false, "zero": false}, "axis": null},
    "x2": {"field": "end"},
    "y": {"datum": 0, "type": "quantitative", "scale": {"domain": [0, 1], "nice": false, "zero": false}, "axis": null},
    "y2": {"datum": 0.3},
    "color": {"field": "bin", "type": "ordinal", "scale": {"domain": [1,2,3,4,5,6,7], "range": ["#dc4430", "#f19b86", "#f6d2c8", "#e8e8f3", "#bcd4e6", "#6ea2cb", "#3b72aa"]}, "legend": null}
   }},
  {"data": {"name": "hits6"}, "mark": {"type": "rule", "color": "#000000", "strokeWidth": 1.2},
   "encoding": {"x": {"field": "rank", "type": "quantitative"}, "y": {"datum": 0.3, "type": "quantitative"}, "y2": {"datum": 1}}}
 ]},

 {"width": 197, "height": 68, "data": {"name": "metC"}, "mark": {"type": "area", "color": "#bebebe"},
  "encoding": {
   "x": {"field": "rank", "type": "quantitative", "scale": {"domain": [0, 18200], "nice": false, "zero": false}, "axis": {"values": [2500,5000,7500,10000,12500,15000,17500], "tickCount": 20, "labelOverlap": false, "format": "d", "labelExpr": "datum.value % 5000 === 0 ? datum.label : ''", "tickOpacity": {"condition": {"test": "datum.value % 5000 !== 0", "value": 0}, "value": 1}, "title": "Rank in Ordered Dataset", "titlePadding": 7, "grid": true}},
   "y": {"field": "metric", "type": "quantitative", "scale": {"domain": [-3.5, 3.0], "nice": false, "zero": false}, "axis": {"values": [3, 2, 1, 0, -1, -2, -3], "tickCount": 20, "labelOverlap": false, "format": "d", "title": "Ranked List Metric"}},
   "y2": {"datum": 0}
  }},
 {"width": 197, "height": 68, "data": {"name": "metA"}, "mark": {"type": "area", "color": "#bebebe"},
  "encoding": {
   "x": {"field": "rank", "type": "quantitative", "scale": {"domain": [0, 18200], "nice": false, "zero": false}, "axis": {"values": [2500,5000,7500,10000,12500,15000,17500], "tickCount": 20, "labelOverlap": false, "format": "d", "labelExpr": "datum.value % 5000 === 0 ? datum.label : ''", "tickOpacity": {"condition": {"test": "datum.value % 5000 !== 0", "value": 0}, "value": 1}, "title": "Rank in Ordered Dataset", "titlePadding": 7, "grid": true}},
   "y": {"field": "metric", "type": "quantitative", "scale": {"domain": [-2.12, 1.75], "nice": false, "zero": false}, "axis": {"values": [1, 0, -1, -2], "tickCount": 20, "labelOverlap": false, "format": "d", "title": "Ranked List Metric"}},
   "y2": {"datum": 0}
  }},
 {"width": 197, "height": 68, "data": {"name": "metB"}, "mark": {"type": "area", "color": "#bebebe"},
  "encoding": {
   "x": {"field": "rank", "type": "quantitative", "scale": {"domain": [0, 18200], "nice": false, "zero": false}, "axis": {"values": [2500,5000,7500,10000,12500,15000,17500], "tickCount": 20, "labelOverlap": false, "format": "d", "labelExpr": "datum.value % 5000 === 0 ? datum.label : ''", "tickOpacity": {"condition": {"test": "datum.value % 5000 !== 0", "value": 0}, "value": 1}, "title": "Rank in Ordered Dataset", "titlePadding": 7, "grid": true}},
   "y": {"field": "metric", "type": "quantitative", "scale": {"domain": [-6.7, 3.1], "nice": false, "zero": false}, "axis": {"values": [2.5, 0, -2.5, -5], "tickCount": 20, "labelOverlap": false, "format": ".1f", "title": "Ranked List Metric"}},
   "y2": {"datum": 0}
  }}
]
}
